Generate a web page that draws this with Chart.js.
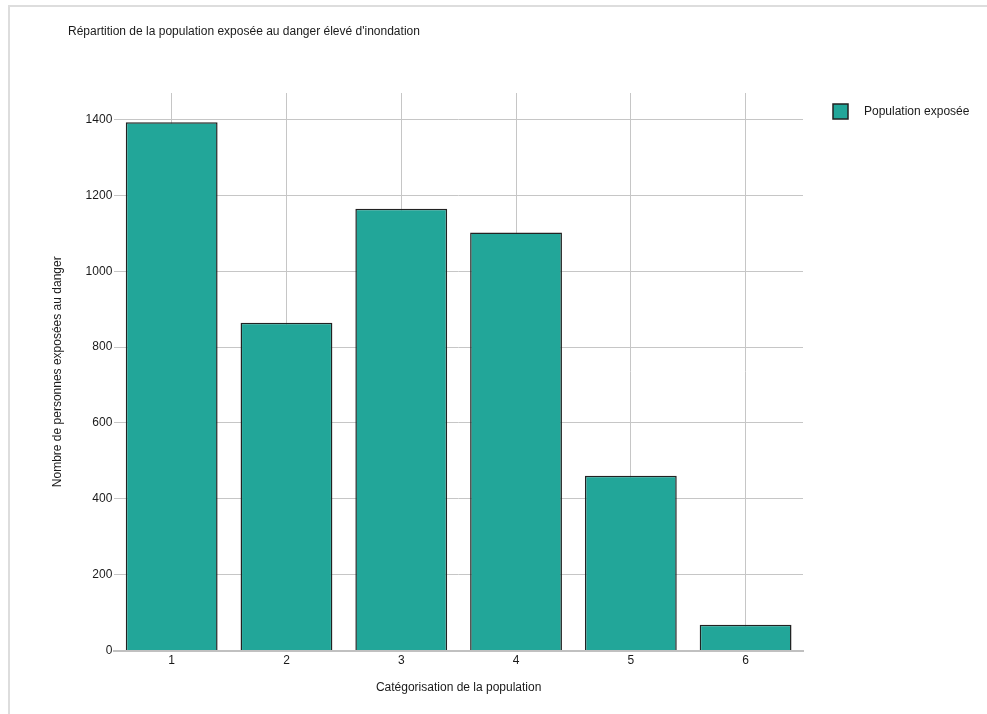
<!DOCTYPE html>
<html>
<head>
<meta charset="utf-8">
<script src="https://cdn.jsdelivr.net/npm/chart.js@4.4.1/dist/chart.umd.min.js"></script>
<style>
  body { margin: 0; background: #fff; overflow: hidden; }
  #frame { position: absolute; left: 8px; top: 5px; width: 2000px; height: 2000px; border: 2px solid #ddd; }
  #c { position: absolute; left: 0; top: 0; }
</style>
</head>
<body>
<div id="frame"></div>
<canvas id="c" width="987" height="714"></canvas>
<script>
const categories = ['1', '2', '3', '4', '5', '6'];
const population = [1393, 864, 1165, 1102, 461, 68];
const yTicks = [0, 200, 400, 600, 800, 1000, 1200, 1400];
const seriesLabel = 'Population exposée';
const chartTitle = "Répartition de la population exposée au danger élevé d'inondation";
const xTitle = 'Catégorisation de la population';
const yTitle = 'Nombre de personnes exposées au danger';

Chart.defaults.font.family = '"Liberation Sans", Arial, sans-serif';
Chart.defaults.font.size = 12;
Chart.defaults.color = '#1a1a1a';

// legend drawn beside the plot, box + label
const sideLegend = {
  id: 'sideLegend',
  afterDraw(chart) {
    const ctx = chart.ctx;
    const ds = chart.data.datasets[0];
    const x = chart.chartArea.right + 30;
    const y = chart.chartArea.top + 11;
    ctx.save();
    ctx.fillStyle = ds.backgroundColor;
    ctx.strokeStyle = ds.borderColor;
    ctx.lineWidth = 1.5;
    ctx.fillRect(x, y, 15, 15);
    ctx.strokeRect(x, y, 15, 15);
    ctx.fillStyle = '#1a1a1a';
    ctx.font = '12px "Liberation Sans", Arial, sans-serif';
    ctx.textBaseline = 'middle';
    ctx.fillText(ds.label, x + 31, y + 8);
    ctx.restore();
  }
};

new Chart(document.getElementById('c'), {
  type: 'bar',
  data: {
    labels: categories,
    datasets: [{
      label: seriesLabel,
      data: population,
      backgroundColor: '#22a699',
      borderColor: '#222',
      borderWidth: 1.5,
      categoryPercentage: 1,
      barPercentage: 0.8
    }]
  },
  options: {
    responsive: false,
    animation: false,
    layout: { padding: { left: 68, right: 184, top: 0, bottom: 0 } },
    plugins: {
      legend: { display: false },
      tooltip: { enabled: false },
      title: {
        display: true,
        text: chartTitle,
        align: 'start',
        color: '#1a1a1a',
        font: { size: 12, weight: 'normal' },
        padding: { top: 24, bottom: 54.6 }
      }
    },
    scales: {
      x: {
        grid: { color: '#c6c6c6', offset: false, drawTicks: false },
        border: { display: true, color: '#c0c0c0', width: 2 },
        ticks: { padding: 3 },
        title: { display: true, text: xTitle, padding: { top: 0, bottom: 18.8 } },
        afterFit(scale) { scale.height = 63.5; }
      },
      y: {
        min: 0,
        max: 1470,
        afterBuildTicks(scale) { scale.ticks = yTicks.map(v => ({ value: v })); },
        grid: { color: '#c6c6c6', drawTicks: false },
        border: { display: false },
        ticks: { padding: 2, callback: v => String(v) },
        title: { display: true, text: yTitle, padding: { top: -17.2, bottom: 0 } },
        afterFit(scale) { scale.width = 46.3; }
      }
    }
  },
  plugins: [sideLegend]
});
</script>
</body>
</html>
